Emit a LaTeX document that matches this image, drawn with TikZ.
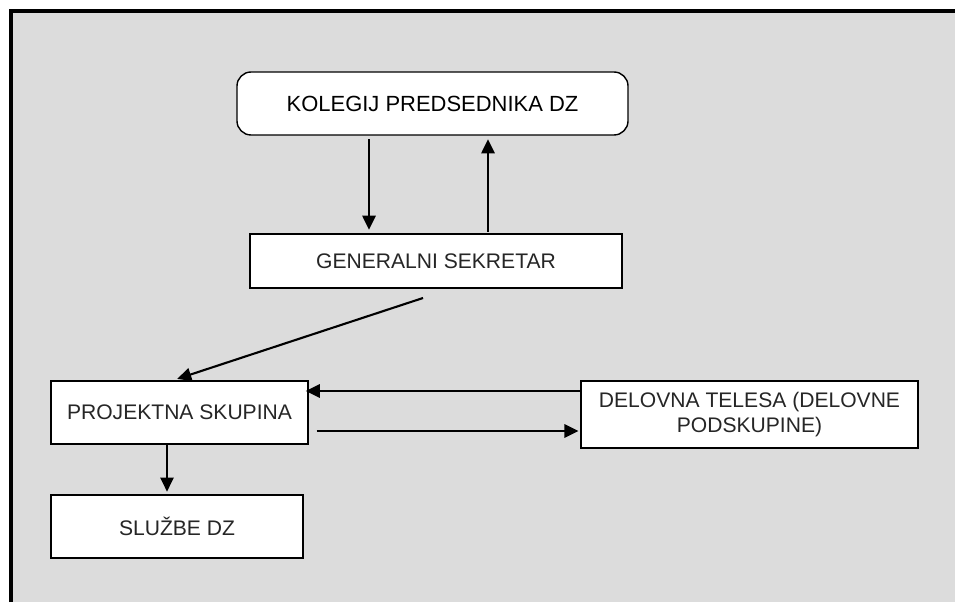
\documentclass[tikz,border=0pt]{standalone}
\usepackage{fontspec}
\setmainfont{Liberation Sans}
\usetikzlibrary{calc,arrows.meta}

\definecolor{panelgray}{HTML}{DCDCDC}
\definecolor{textgray}{HTML}{262626}

\tikzset{
  box/.style={draw=black, fill=white, line width=0.8pt, inner sep=0pt,
    font=\fontsize{12}{14.5}\selectfont, text=textgray, align=center},
  conn/.style={line width=1.2pt, -{Triangle[length=8pt, width=7.5pt]}}
}

\begin{document}
\begin{tikzpicture}[x=0.02cm, y=0.02cm]
  \useasboundingbox (0,0) rectangle (955,602);
  \fill[panelgray] (11,0) rectangle (955,591);
  \draw[black, line width=1.8pt] (11,0) -- (11,591) -- (955,591);

  \node[box, rounded corners=8pt, text=black, font=\fontsize{12.5}{15}\selectfont, minimum width=391*0.02cm, minimum height=63*0.02cm] (kolegij) at (432.5,498.5) {KOLEGIJ PREDSEDNIKA DZ};
  \node[box, minimum width=372*0.02cm, minimum height=54*0.02cm] (sekretar) at (436,341) {GENERALNI SEKRETAR};
  \node[box, minimum width=257*0.02cm, minimum height=63*0.02cm] (projektna) at (179.5,189.5) {PROJEKTNA SKUPINA};
  \node[box, minimum width=252*0.02cm, minimum height=63*0.02cm] (sluzbe) at (177,75.5) {SLUŽBE DZ};
  \node[box, minimum width=337*0.02cm, minimum height=67*0.02cm] (delovna) at (749.5,187.5) {DELOVNA TELESA (DELOVNE\\PODSKUPINE)};

  \coordinate (dol) at (369,0);
  \coordinate (gor) at (488,0);
  \coordinate (poc) at (423,304);

  \draw[conn, shorten <=2pt, shorten >=2pt] (kolegij.south -| dol) -- (sekretar.north -| dol);
  \draw[conn, shorten <=1pt, shorten >=2pt] (sekretar.north -| gor) -- (kolegij.south -| gor);
  \draw[conn, shorten >=2.5pt] (poc) -- ($(projektna.north)+(-6.5,0)$);
  \draw[conn] ($(delovna.west)+(0,23.5)$) -- ($(projektna.east)+(-3,21.5)$);
  \draw[conn, shorten >=1pt] ($(projektna.east)+(8,-18.5)$) -- ($(delovna.west)+(0,-16.5)$);
  \draw[conn, shorten >=1.5pt] ($(projektna.south)+(-12.5,1.5)$) -- ($(sluzbe.north)+(-10,0)$);
\end{tikzpicture}
\end{document}
